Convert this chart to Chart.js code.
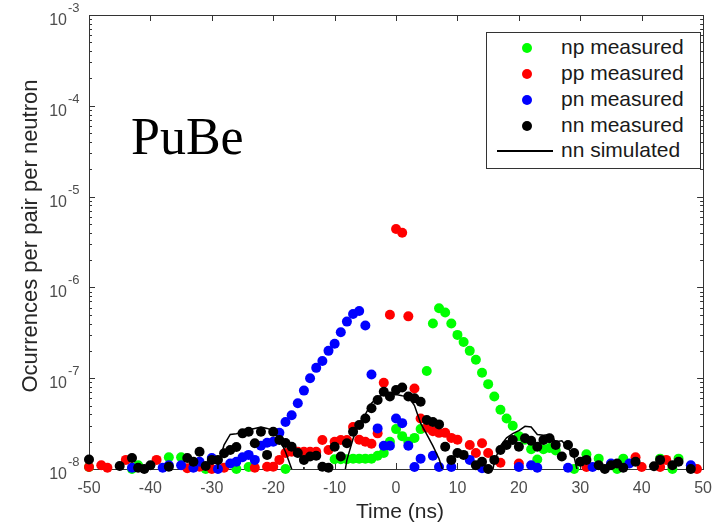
<!DOCTYPE html>
<html>
<head>
<meta charset="utf-8">
<script src="https://cdn.jsdelivr.net/npm/chart.js@4.4.0/dist/chart.umd.min.js"></script>
<style>
  body { margin: 0; background: #fff; }
  #wrap { position: relative; width: 722px; height: 524px; }
  #chart { position: absolute; left: 0; top: 0; }
  .sans { font-family: "Liberation Sans", Arial, Helvetica, sans-serif; color: #262626; position: absolute; white-space: nowrap; }
  #xtitle { left: 300px; width: 200px; text-align: center; top: 500px; font-size: 21px; line-height: 21px; }
  #ytitle { left: -170px; width: 400px; text-align: center; top: 225px; font-size: 22px; line-height: 22px; transform: rotate(-90deg); }
  #tag { position: absolute; left: 131px; top: 111px; font-family: "Liberation Serif", "Times New Roman", serif; font-size: 52px; line-height: 52px; color: #000; }
  #legend { position: absolute; left: 486px; top: 32px; width: 215px; height: 137px; box-sizing: border-box; border: 1px solid #333; background: #fff; }
  .dot { position: absolute; width: 10px; height: 10px; border-radius: 50%; }
  .key { font-size: 21px; line-height: 21px; color: #1a1a1a; }
  #simkey { position: absolute; left: 497px; top: 150px; width: 56px; height: 2px; background: #000; }
</style>
</head>
<body>
<div id="wrap">
  <canvas id="chart" width="722" height="524"></canvas>
  <div id="tag">PuBe</div>
  <div id="legend"></div>
  <div id="xtitle" class="sans">Time (ns)</div>
  <div id="ytitle" class="sans">Ocurrences per pair per neutron</div>
</div>
<script>
// time bins (ns)
const times = [
  -50, -49, -48, -47, -46, -45, -44, -43, -42, -41,
  -40, -39, -38, -37, -36, -35, -34, -33, -32, -31,
  -30, -29, -28, -27, -26, -25, -24, -23, -22, -21,
  -20, -19, -18, -17, -16, -15, -14, -13, -12, -11,
  -10, -9, -8, -7, -6, -5, -4, -3, -2, -1,
  0, 1, 2, 3, 4, 5, 6, 7, 8, 9,
  10, 11, 12, 13, 14, 15, 16, 17, 18, 19,
  20, 21, 22, 23, 24, 25, 26, 27, 28, 29,
  30, 31, 32, 33, 34, 35, 36, 37, 38, 39,
  40, 41, 42, 43, 44, 45, 46, 47, 48, 49,
  50
]

// occurrences per pair per neutron, null = nothing above 1e-8
const npMeasured = [
  1.05e-8, null, null, null, null, null, null, 1.0e-8, 1.1e-8, null,
  null, null, null, 1.35e-8, null, 1.35e-8, null, null, null, 1.0e-8,
  null, null, null, null, 1.0e-8, null, 1.05e-8, null, null, null,
  null, null, 1.0e-8, null, null, null, null, null, null, null,
  1.28e-8, 1.28e-8, 1.28e-8, 1.3e-8, 1.3e-8, 1.3e-8, 1.3e-8, 1.4e-8, 1.5e-8, 2.0e-8,
  2.75e-8, 2.3e-8, 2.0e-8, 2.2e-8, 2.75e-8, 1.2e-7, 4.0e-7, 5.9e-7, 5.3e-7, 4.0e-7,
  3.0e-7, 2.5e-7, 2.0e-7, 1.6e-7, 1.15e-7, 8.6e-8, 6.3e-8, 4.5e-8, 3.6e-8, 3.0e-8,
  2.3e-8, 2.1e-8, 1.65e-8, 1.27e-8, 1.65e-8, 1.7e-8, 1.6e-8, null, null, 1.0e-8,
  null, 1.45e-8, null, 1.3e-8, null, null, 1.0e-8, 1.3e-8, null, null,
  null, null, null, 1.3e-8, null, 1.0e-8, 1.3e-8, null, null, null,
  null
]

const ppMeasured = [
  1.05e-8, null, 1.1e-8, 1.03e-8, null, null, 1.26e-8, null, null, null,
  null, 1.26e-8, null, null, null, null, 1.02e-8, null, 1.06e-8, null,
  1.0e-8, null, 1.03e-8, null, null, null, null, 1.03e-8, null, 1.06e-8,
  1.06e-8, 1.26e-8, 1.5e-8, 1.55e-8, 1.55e-8, 1.55e-8, 1.55e-8, 1.55e-8, 2.09e-8, 1.62e-8,
  2.0e-8, 2.09e-8, 2.09e-8, 2.9e-8, 2.1e-8, 2.0e-8, 1.9e-8, 2.47e-8, 8.9e-8, 5.0e-7,
  4.4e-6, 4.0e-6, 4.8e-7, 7.7e-8, 3.6e-8, 2.85e-8, 2.6e-8, 2.5e-8, 2.5e-8, 2.2e-8,
  2.1e-8, null, 1.84e-8, 1.5e-8, 1.92e-8, 1.5e-8, null, 1.17e-8, null, null,
  1.15e-8, null, null, null, null, null, null, null, null, null,
  null, 1.05e-8, null, null, null, null, null, null, null, 1.35e-8,
  1.05e-8, null, null, 1.05e-8, 1.26e-8, null, null, null, null, 1.0e-8,
  null
]

const pnMeasured = [
  null, null, null, null, null, null, null, 1.03e-8, null, null,
  null, null, 1.03e-8, 1.1e-8, null, 1.1e-8, null, 1.03e-8, 1.2e-8, null,
  1.32e-8, 1.0e-8, null, 1.15e-8, 1.2e-8, 1.35e-8, 1.43e-8, 1.26e-8, 1.8e-8, 1.95e-8,
  2.0e-8, 2.5e-8, 3.3e-8, 3.9e-8, 5.3e-8, 7.3e-8, 1.0e-7, 1.3e-7, 1.55e-7, 2.0e-7,
  2.4e-7, 3.2e-7, 4.2e-7, 5.1e-7, 5.5e-7, 3.8e-7, 1.1e-7, 2.8e-8, 1.8e-8, 1.8e-8,
  3.6e-8, 3.2e-8, 1.8e-8, 1.05e-8, 1.3e-8, null, 1.4e-8, 1.05e-8, null, 1.05e-8,
  null, null, 1.26e-8, null, 1.02e-8, null, null, null, null, null,
  1.05e-8, null, 1.1e-8, 1.03e-8, null, null, null, null, 1.03e-8, null,
  null, null, 1.05e-8, null, null, 1.15e-8, null, null, 1.15e-8, null,
  null, null, null, null, null, null, null, null, 1.1e-8, null,
  null
]

const nnMeasured = [
  1.27e-8, null, null, null, null, 1.08e-8, null, 1.32e-8, 1.03e-8, 1.0e-8,
  1.1e-8, null, null, 1.06e-8, null, null, 1.32e-8, 1.2e-8, 1.55e-8, 1.08e-8,
  1.26e-8, 1.26e-8, 1.49e-8, 1.62e-8, 1.75e-8, 2.47e-8, 2.57e-8, 1.92e-8, 2.57e-8, 1.43e-8,
  2.57e-8, 2.09e-8, 1.93e-8, 1.76e-8, 1.5e-8, 1.26e-8, 1.37e-8, 1.4e-8, 1.06e-8, 1.03e-8,
  1.76e-8, 1.37e-8, 1.92e-8, 2.57e-8, 3.05e-8, 3.6e-8, 4.66e-8, 5.75e-8, 7.1e-8, 6.3e-8,
  7.4e-8, 7.9e-8, 6.3e-8, 6.0e-8, 5.5e-8, 3.46e-8, 3.3e-8, 3.1e-8, 1.76e-8, 1.26e-8,
  1.5e-8, 1.43e-8, null, 1.1e-8, 1.2e-8, 1.0e-8, 1.26e-8, 1.62e-8, 1.84e-8, 2.09e-8,
  1.76e-8, 2.18e-8, 2.05e-8, 1.76e-8, 2.09e-8, 2.18e-8, 1.84e-8, 1.37e-8, 1.84e-8, 1.5e-8,
  1.2e-8, 1.26e-8, null, 1.1e-8, 1.0e-8, 1.1e-8, 1.15e-8, 1.03e-8, null, 1.2e-8,
  null, null, 1.07e-8, 1.26e-8, null, 1.1e-8, 1.2e-8, null, 1.0e-8, null,
  null
]

// simulated nn curve, 1e-10 where it sits far below the axis
const nnSimulated = [
  1e-10, 1e-10, 1e-10, 1e-10, 1e-10, 1e-10, 1e-10, 1e-10, 1e-10, 1e-10,
  1e-10, 1e-10, 1e-10, 1e-10, 1e-10, 1e-10, 1e-10, 1e-10, 1e-10, 1e-10,
  1e-10, 1.1e-8, 1.85e-8, 2.4e-8, 2.45e-8, 2.55e-8, 2.7e-8, 2.8e-8, 2.9e-8, 2.8e-8,
  2.65e-8, 2.15e-8, 1.55e-8, 1.0e-8, 1e-10, 1.05e-8, 1e-10, 1e-10, 1e-10, 1e-10,
  1e-10, 5e-9, 1.26e-8, 2.15e-8, 3.2e-8, 4.0e-8, 5.3e-8, 6.2e-8, 6.6e-8, 6.5e-8,
  6.6e-8, 6.4e-8, 6.3e-8, 5.0e-8, 3.2e-8, 2.4e-8, 1.8e-8, 1.3e-8, 8e-9, 1e-10,
  1e-10, 1e-10, 1e-10, 1e-10, 1e-10, 5e-9, 1.2e-8, 1.8e-8, 2.2e-8, 2.45e-8,
  2.65e-8, 2.95e-8, 2.9e-8, 2.4e-8, 2.35e-8, 2.4e-8, 2.0e-8, 2.05e-8, 1.7e-8, 1.35e-8,
  7e-9, 1e-10, 1e-10, 1e-10, 1e-10, 1e-10, 1e-10, 1e-10, 1e-10, 1e-10,
  1e-10, 1e-10, 1e-10, 1e-10, 1e-10, 1e-10, 1e-10, 1e-10, 1e-10, 1e-10,
  1e-10
]

const xTicks = [-50, -40, -30, -20, -10, 0, 10, 20, 30, 40, 50]
const yDecades = [-8, -7, -6, -5, -4, -3]

const seriesNames = ['np measured', 'pp measured', 'pn measured', 'nn measured', 'nn simulated']
const seriesColors = ['#00ff00', '#ff0000', '#0000ff', '#000000', '#000000']

const toPoints = (vals) => times
  .map((t, i) => ({x: t, y: vals[i]}))
  .filter(p => p.y !== null)

const measured = (i, vals) => ({
  label: seriesNames[i],
  data: toPoints(vals),
  backgroundColor: seriesColors[i],
  borderWidth: 0,
  pointRadius: 5,
  pointHoverRadius: 5,
  showLine: false,
  clip: false,
  order: 4 - i   // later series sit on top
})

// frame with inward ticks on all four sides, like a boxed axes
const axesBox = {
  id: 'axesBox',
  beforeDatasetsDraw(chart) {
    const {ctx, chartArea: a, scales: {x, y}} = chart
    ctx.save()
    ctx.strokeStyle = '#333'
    ctx.lineWidth = 1
    ctx.beginPath()
    xTicks.forEach(v => {
      const px = Math.round(x.getPixelForValue(v)) + 0.5
      ctx.moveTo(px, a.bottom); ctx.lineTo(px, a.bottom - 6)
      ctx.moveTo(px, a.top); ctx.lineTo(px, a.top + 6)
    })
    yDecades.forEach(e => {
      for (let m = 1; m <= 9; m++) {
        const v = m * Math.pow(10, e)
        if (v > 1e-3 * 1.0001) continue
        const py = Math.round(y.getPixelForValue(v)) + 0.5
        const len = m === 1 ? 6 : 3
        ctx.moveTo(a.left, py); ctx.lineTo(a.left + len, py)
        ctx.moveTo(a.right, py); ctx.lineTo(a.right - len, py)
      }
    })
    ctx.stroke()
    ctx.strokeRect(Math.round(a.left) + 0.5, Math.round(a.top) + 0.5,
      Math.round(a.right - a.left), Math.round(a.bottom - a.top))
    ctx.restore()
  },
  afterDraw(chart) {
    // 10^n labels on the log axis
    const {ctx, scales: {y}} = chart
    ctx.save()
    ctx.fillStyle = '#4d4d4d'
    ctx.textBaseline = 'alphabetic'
    yDecades.forEach(e => {
      const py = y.getPixelForValue(Math.pow(10, e))
      ctx.font = '13px "Liberation Sans", Arial, sans-serif'
      ctx.textAlign = 'left'
      ctx.fillText(String(e), 68, py - 3)
      ctx.font = '16px "Liberation Sans", Arial, sans-serif'
      ctx.textAlign = 'right'
      ctx.fillText('10', 67, py + 10)
    })
    ctx.restore()
  }
}

new Chart(document.getElementById('chart'), {
  type: 'scatter',
  data: {
    datasets: [
      measured(0, npMeasured),
      measured(1, ppMeasured),
      measured(2, pnMeasured),
      measured(3, nnMeasured),
      {
        label: seriesNames[4],
        data: toPoints(nnSimulated),
        showLine: true,
        borderColor: seriesColors[4],
        borderWidth: 1.5,
        pointRadius: 0,
        pointHoverRadius: 0,
        order: 0
      }
    ]
  },
  options: {
    responsive: false,
    animation: false,
    layout: {padding: {left: 0, right: 12, top: 15, bottom: 0}},
    plugins: {legend: {display: false}, tooltip: {enabled: false}},
    scales: {
      x: {
        type: 'linear',
        min: -50,
        max: 50,
        afterFit: s => { s.height = 55 },
        grid: {display: false, drawTicks: false},
        border: {display: false},
        ticks: {
          stepSize: 10,
          padding: 10,
          maxRotation: 0,
          color: '#4d4d4d',
          font: {family: '"Liberation Sans", Arial, sans-serif', size: 16}
        }
      },
      y: {
        type: 'logarithmic',
        min: 1e-8,
        max: 1e-3,
        afterFit: s => { s.width = 89 },
        grid: {display: false},
        border: {display: false},
        ticks: {display: false}
      }
    }
  },
  plugins: [axesBox]
})

// legend box, top right inside the axes
const wrap = document.getElementById('wrap')
const rowBase = [54.3, 80.3, 106, 131.7, 157]
seriesNames.forEach((name, i) => {
  if (i < 4) {
    const d = document.createElement('div')
    d.className = 'dot'
    d.style.left = (526.7 - 5) + 'px'
    d.style.top = (rowBase[i] - 6 - 5) + 'px'
    d.style.background = seriesColors[i]
    wrap.appendChild(d)
  } else {
    const l = document.createElement('div')
    l.id = 'simkey'
    wrap.appendChild(l)
  }
  const t = document.createElement('div')
  t.className = 'sans key'
  t.textContent = name
  t.style.left = '561px'
  t.style.top = (rowBase[i] - 18) + 'px'
  wrap.appendChild(t)
})
</script>
</body>
</html>
